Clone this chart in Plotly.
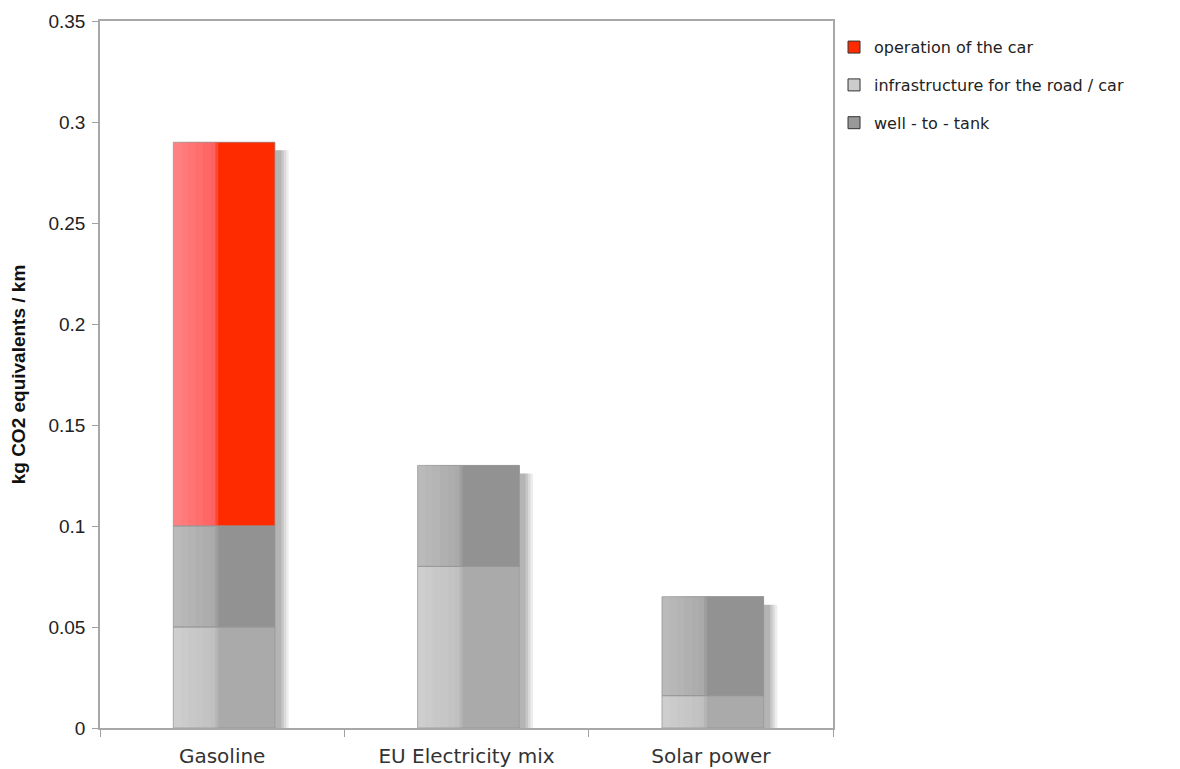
import plotly.graph_objects as go
import numpy as np

# ---- data ----
categories = ["Gasoline", "EU Electricity mix", "Solar power"]
infrastructure = [0.05, 0.08, 0.016]
well_to_tank = [0.05, 0.05, 0.049]
operation = [0.19, 0.0, 0.0]
series_names = ["infrastructure for the road / car", "well - to - tank", "operation of the car"]
y_ticks = [0, 0.05, 0.1, 0.15, 0.2, 0.25, 0.3, 0.35]
y_title = "kg CO2 equivalents / km"

series = [infrastructure, well_to_tank, operation]
bases = np.cumsum(np.array([[0.0] * 3] + series[:-1]), axis=0)
totals = np.sum(np.array(series), axis=0)

# ---- styling ----
BAR_LEFT, SPLIT, BAR_RIGHT = -0.200, -0.016, 0.216
N_STRIPS = 6
styles = [
    dict(l0=(206, 206, 206), l1=(192, 192, 192), right=(170, 170, 170), legend="#cccccc"),
    dict(l0=(186, 186, 186), l1=(170, 170, 170), right=(146, 146, 146), legend="#999999"),
    dict(l0=(255, 128, 128), l1=(255, 96, 96), right=(255, 43, 0), legend="#ff2b00"),
]
legend_rank = [2, 3, 1]


def rgb(c):
    return "rgb(%d,%d,%d)" % tuple(int(round(v)) for v in c)


def mask(vals):
    return [v if v > 0 else None for v in vals]


fig = go.Figure()

# shadow behind bars
for extra, alpha in [(0.056, 0.07), (0.046, 0.08), (0.036, 0.09), (0.026, 0.09)]:
    fig.add_trace(go.Bar(
        x=categories, y=list(totals - 0.004), base=[0, 0, 0],
        offset=BAR_LEFT + 0.03, width=(BAR_RIGHT - BAR_LEFT) - 0.03 + extra,
        marker=dict(color="rgba(0,0,0,%.2f)" % alpha, line=dict(width=0)),
        showlegend=False, hoverinfo="skip"))

# bar segments with a light left-hand gradient
w = (SPLIT - BAR_LEFT) / N_STRIPS
for i, vals in enumerate(series):
    st = styles[i]
    for k in range(N_STRIPS):
        t = k / (N_STRIPS - 1)
        col = [a + (b - a) * t for a, b in zip(st["l0"], st["l1"])]
        start = BAR_LEFT + k * w
        fig.add_trace(go.Bar(
            x=categories, y=mask(vals), base=list(bases[i]),
            offset=start, width=BAR_RIGHT - start,
            marker=dict(color=rgb(col), line=dict(width=0)),
            showlegend=False, hoverinfo="skip"))
    mid = [(a + b) / 2 for a, b in zip(st["l1"], st["right"])]
    fig.add_trace(go.Bar(
        x=categories, y=mask(vals), base=list(bases[i]),
        offset=SPLIT - 0.012, width=BAR_RIGHT - SPLIT + 0.012,
        marker=dict(color=rgb(mid), line=dict(width=0)),
        showlegend=False, hoverinfo="skip"))
    fig.add_trace(go.Bar(
        x=categories, y=mask(vals), base=list(bases[i]),
        offset=SPLIT, width=BAR_RIGHT - SPLIT,
        marker=dict(color=rgb(st["right"]), line=dict(width=0)),
        name=series_names[i], showlegend=False))

# outlines
for i, vals in enumerate(series):
    fig.add_trace(go.Bar(
        x=categories, y=mask(vals), base=list(bases[i]),
        offset=BAR_LEFT, width=BAR_RIGHT - BAR_LEFT,
        marker=dict(color="rgba(0,0,0,0)", line=dict(color="rgba(150,150,150,0.75)", width=1)),
        showlegend=False, hoverinfo="skip"))

# legend entries
for i in range(3):
    fig.add_trace(go.Bar(
        x=[None], y=[None], name=series_names[i],
        marker=dict(color=styles[i]["legend"], line=dict(color="#333333", width=1)),
        legendrank=legend_rank[i], legendgroup=series_names[i], showlegend=True))

fig.update_layout(
    width=1180, height=769,
    barmode="overlay",
    plot_bgcolor="white", paper_bgcolor="white",
    margin=dict(l=92, r=355, t=13, b=49, autoexpand=False),
    legend=dict(
        x=1.0014, xanchor="left", y=0.987, yanchor="top",
        font=dict(family="DejaVu Sans", size=16, color="#222222"),
        tracegroupgap=14, traceorder="grouped", bgcolor="rgba(0,0,0,0)",
        itemclick=False),
    xaxis=dict(
        type="category", range=[-0.5, 2.5], tickson="boundaries",
        ticks="outside", ticklen=7, tickcolor="#a0a0a0",
        showline=True, linecolor="#a8a8a8", linewidth=1.5, mirror=True,
        showgrid=False, zeroline=False, ticklabelstandoff=9,
        tickfont=dict(family="DejaVu Sans", size=20, color="#333333")),
    yaxis=dict(
        range=[0, 0.35], tickvals=y_ticks, ticktext=[("%g" % v) for v in y_ticks],
        ticks="outside", ticklen=6, tickcolor="#a0a0a0",
        showline=True, linecolor="#a8a8a8", linewidth=1.5, mirror=True,
        showgrid=False, zeroline=False, ticklabelstandoff=3,
        tickfont=dict(family="Liberation Sans", size=19, color="#222222"),
        title=dict(text="<b>" + y_title + "</b>", standoff=20,
                   font=dict(family="Liberation Sans", size=19, color="#111111"))),
)

fig.write_html("out.html")
